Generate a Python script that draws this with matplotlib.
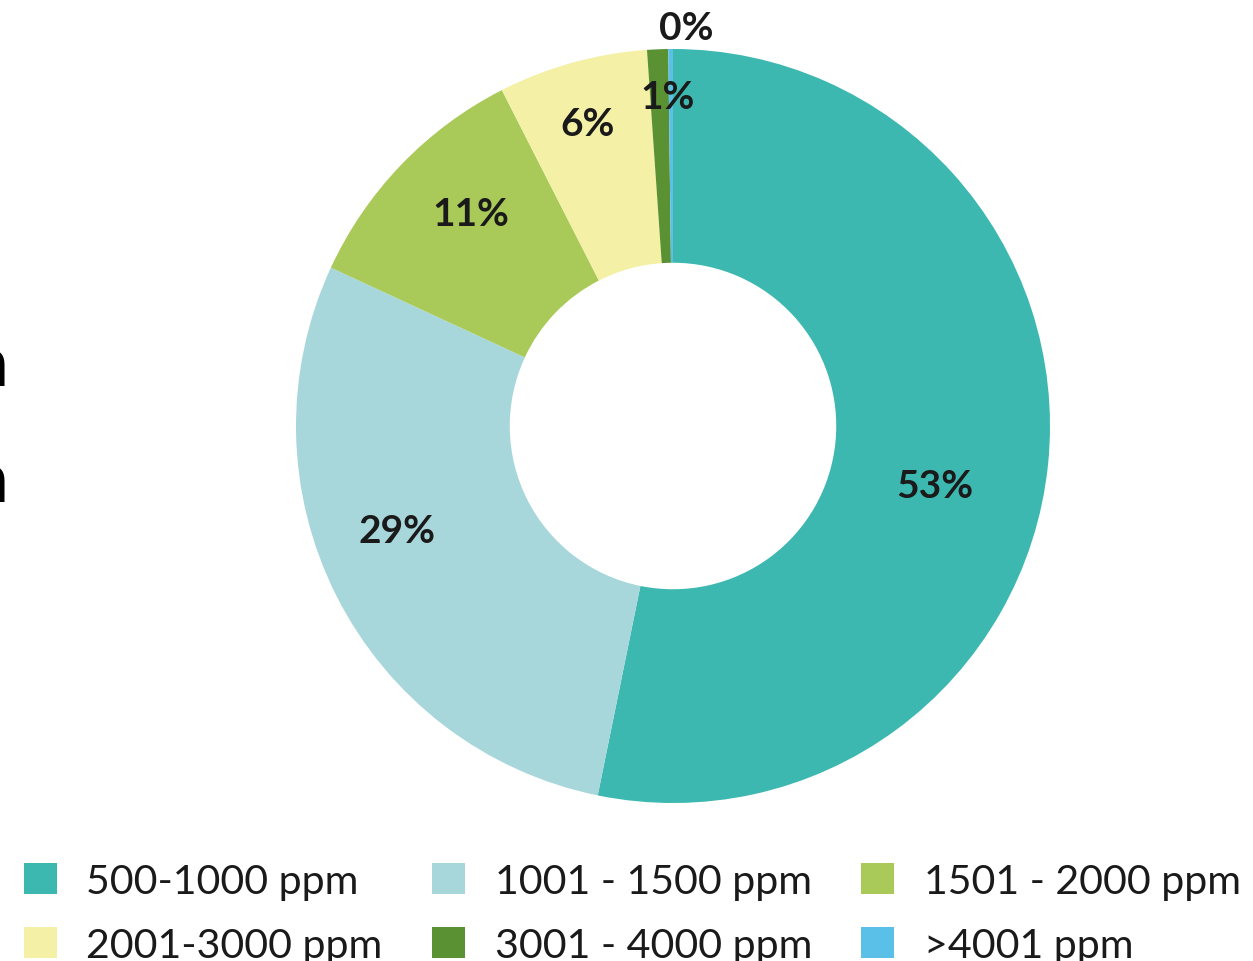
import matplotlib.pyplot as plt
import numpy as np
from matplotlib.patches import Patch

# CO2 concentration bands and their share
categories = ["500-1000 ppm", "1001 - 1500 ppm", "1501 - 2000 ppm",
              "2001-3000 ppm", "3001 - 4000 ppm", ">4001 ppm"]
shares = [53.2, 28.7, 10.6, 6.4, 0.9, 0.2]
colors = ["#3db8b1", "#a7d7db", "#a9ca58", "#f4f0a6", "#5a9233", "#5bc0e8"]

# label placement: radius (fraction of outer radius) and angle nudge (deg)
label_r = [0.713, 0.782, 0.777, 0.833, 0.875, 1.058]
label_dang = [-7.0, -6.0, -2.5, 0.4, -1.4, -2.3]

fig = plt.figure(figsize=(12.53, 9.62), dpi=100)

ax = fig.add_axes([296 / 1253, 158 / 962, 754 / 1253, 754 / 962])
wedges, _ = ax.pie(shares, colors=colors, startangle=90, counterclock=False,
                   radius=1.0, wedgeprops=dict(width=0.567, linewidth=0))
ax.set_xlim(-1, 1)
ax.set_ylim(-1, 1)
ax.axis("off")

for w, val, r, da in zip(wedges, shares, label_r, label_dang):
    mid = np.deg2rad((w.theta1 + w.theta2) / 2 + da)
    ax.text(r * np.cos(mid), r * np.sin(mid), f"{val:.0f}%",
            ha="center", va="center", fontsize=28, fontweight="bold",
            family="Lato", color="#1a1a1a")

# cut-off title text at left edge
for base in (386, 502):
    fig.text(9 / 1253, 1 - base / 962, "n", ha="right", va="baseline",
             fontsize=46, fontweight="bold", color="black")

# legend reads row by row; matplotlib fills columns first
order = [0, 3, 1, 4, 2, 5]
handles = [Patch(facecolor=colors[i], edgecolor="none") for i in order]
labels = [categories[i] for i in order]
fig.legend(handles, labels, ncol=3, loc="lower left",
           bbox_to_anchor=(24 / 1253, -3 / 962), frameon=False,
           prop=dict(family="Lato", size=29.6), handlelength=0.8,
           handleheight=0.8, handletextpad=0.72, columnspacing=1.2,
           labelspacing=0.66, borderpad=0, borderaxespad=0,
           labelcolor="#1a1a1a")

fig.savefig("out.png", dpi=100)
